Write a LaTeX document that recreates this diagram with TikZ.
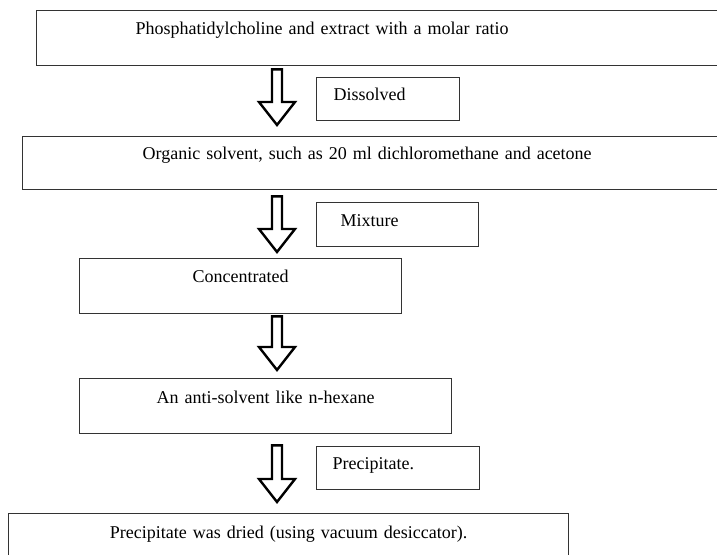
\documentclass[tikz,border=0pt]{standalone}
\usepackage{fontspec}
\setmainfont{Liberation Serif}
\usetikzlibrary{calc}

\newcommand{\hollowdown}[2]{%
  \draw[blockarrow] ($(#1)+(-5,0)$) -- ($(#2)+(-5,-23)$) -- ($(#2)+(-18,-23)$)
    -- (#2) -- ($(#2)+(18,-23)$) -- ($(#2)+(5,-23)$) -- ($(#1)+(5,0)$) -- cycle;}

\begin{document}
\begin{tikzpicture}[x=1pt,y=-1pt,font=\fontsize{18}{21}\selectfont,
    stepbox/.style={draw=black!80, line width=1.3pt, anchor=north west, inner ysep=0pt, align=left},
    midbox/.style={stepbox, align=center, inner xsep=0pt},
    blockarrow/.style={draw=black, line width=2.4pt, fill=white, line join=miter}]
  \useasboundingbox (0,0) rectangle (717,554);
  \clip (0,0) rectangle (717,554);

  \coordinate (ax) at (277,0);

  \node[stepbox, inner xsep=99pt, text width=526pt, text height=24pt, text depth=31pt] (phos) at (36,10)
    {Phosphatidylcholine and extract with a molar ratio};
  \node[stepbox, inner xsep=17pt, text width=109pt, text height=23pt, text depth=20pt] (dissolved) at (316,77)
    {Dissolved};
  \node[stepbox, inner xsep=120pt, text width=498pt, text height=23pt, text depth=30pt] (organic) at (22,136)
    {Organic solvent, such as 20 ml dichloromethane and acetone};
  \node[stepbox, inner xsep=24pt, text width=114pt, text height=24pt, text depth=20pt] (mixture) at (316,202)
    {Mixture};
  \node[midbox, text width=322pt, text height=24pt, text depth=31pt] (conc) at (79,258)
    {Concentrated};
  \node[midbox, text width=372pt, text height=25pt, text depth=30pt] (anti) at (79,378)
    {An anti-solvent like n-hexane};
  \node[stepbox, inner xsep=16pt, text width=131pt, text height=23pt, text depth=20pt] (precip) at (316,446)
    {Precipitate.};
  \node[midbox, text width=560pt, text height=25pt, text depth=60pt] (dried) at (8,513)
    {Precipitate was dried (using vacuum desiccator).};

  % hollow arrows between the steps
  \hollowdown{$(phos.south -| ax)+(0,3)$}{$(organic.north -| ax)+(0,-11)$}
  \hollowdown{$(organic.south -| ax)+(0,6)$}{$(conc.north -| ax)+(0,-6)$}
  \hollowdown{$(conc.south -| ax)+(0,2)$}{$(anti.north -| ax)+(0,-8)$}
  \hollowdown{$(anti.south -| ax)+(0,11)$}{$(dried.north -| ax)+(0,-11)$}
\end{tikzpicture}
\end{document}
